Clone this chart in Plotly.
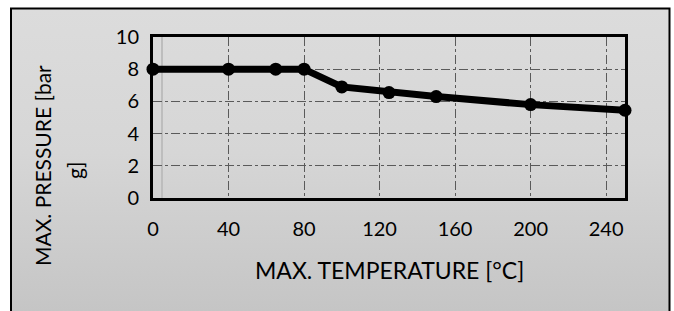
import base64
import plotly.graph_objects as go

# Data
temperature_c = [0, 40, 65, 80, 100, 125, 150, 200, 250]
pressure_barg = [8, 8, 8, 8, 6.9, 6.55, 6.3, 5.8, 5.45]
x_tickvals = [0, 40, 80, 120, 160, 200, 240]
y_tickvals = [0, 2, 4, 6, 8, 10]
x_title = "MAX. TEMPERATURE [°C]"
y_title_line1 = "MAX. PRESSURE [bar"
y_title_line2 = "g]"

W, H = 674, 311
L, R, T, B = 153, 49, 37, 113
pw, ph = W - L - R, H - T - B

def px_x(p):
    return (p - L) / pw

def px_y(p):
    return (H - B - p) / ph

FONT = "Lato, 'Open Sans', sans-serif"

svg = ('<svg xmlns="http://www.w3.org/2000/svg" width="100" height="100" preserveAspectRatio="none">'
       '<defs><linearGradient id="g" x1="0" y1="0" x2="0" y2="1">'
       '<stop offset="0" stop-color="#dcdcdc"/><stop offset="0.45" stop-color="#d6d6d6"/>'
       '<stop offset="1" stop-color="#c3c3c3"/></linearGradient></defs>'
       '<rect width="100" height="100" fill="url(#g)"/></svg>')
src = "data:image/svg+xml;base64," + base64.b64encode(svg.encode()).decode()

fig = go.Figure()
fig.add_trace(go.Scatter(
    x=temperature_c, y=pressure_barg, mode="lines+markers",
    line=dict(color="black", width=7),
    marker=dict(color="black", size=13),
    showlegend=False, cliponaxis=False,
))

frame_x0, frame_x1 = px_x(11), px_x(669.5)
frame_y0, frame_y1 = px_y(330), px_y(8.5)

fig.update_layout(
    width=W, height=H,
    margin=dict(l=L, r=R, t=T, b=B),
    paper_bgcolor="white", plot_bgcolor="rgba(0,0,0,0)",
    font=dict(family=FONT, size=20, color="black"),
    images=[dict(source=src, xref="paper", yref="paper",
                 x=frame_x0, y=frame_y1, sizex=frame_x1 - frame_x0, sizey=frame_y1 - frame_y0,
                 sizing="stretch", layer="below", xanchor="left", yanchor="top")],
    shapes=[
        dict(type="rect", xref="paper", yref="paper", x0=frame_x0, x1=frame_x1,
             y0=frame_y0, y1=frame_y1, line=dict(color="black", width=2), layer="below"),
        dict(type="line", xref="paper", yref="paper", x0=px_x(162), x1=px_x(162),
             y0=0, y1=1, line=dict(color="#bdbdbd", width=2), layer="below"),
    ],
    xaxis=dict(range=[0, 250], tickvals=x_tickvals, showgrid=True,
               gridcolor="#5a5a5a", gridwidth=1, griddash="dashdot",
               showline=True, linecolor="black", linewidth=2.5, mirror=True,
               ticks="", ticklabelstandoff=11, zeroline=False,
               tickfont=dict(size=20)),
    yaxis=dict(range=[0, 10], tickvals=y_tickvals, showgrid=True,
               gridcolor="#5a5a5a", gridwidth=1, griddash="dashdot",
               showline=True, linecolor="black", linewidth=3, mirror=True,
               ticks="", ticklabelstandoff=7, zeroline=False,
               tickfont=dict(size=20)),
    annotations=[
        dict(text=x_title, xref="paper", yref="paper", x=px_x(389.5), y=px_y(270),
             showarrow=False, font=dict(size=23), xanchor="center", yanchor="middle"),
        dict(text=y_title_line1, xref="paper", yref="paper", x=px_x(42), y=px_y(166),
             showarrow=False, font=dict(size=21), textangle=-90,
             xanchor="center", yanchor="middle"),
        dict(text=y_title_line2, xref="paper", yref="paper", x=px_x(74), y=px_y(171),
             showarrow=False, font=dict(size=21), textangle=-90,
             xanchor="center", yanchor="middle"),
    ],
)

fig.write_html("out.html", config={"displayModeBar": False},
               post_script="document.body.style.margin='0';")
